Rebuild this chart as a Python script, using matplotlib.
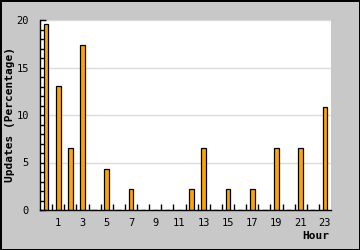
import matplotlib
matplotlib.use("Agg")
import matplotlib.pyplot as plt
import numpy as np

# hour of day and share of updates (percent)
hours = list(range(24))
updates = [19.57, 13.04, 6.52, 17.39, 0, 4.35, 0, 2.17, 0, 0, 0, 0,
           2.17, 6.52, 0, 2.17, 0, 2.17, 0, 6.52, 0, 6.52, 0, 10.87]
label_hours = [1, 3, 5, 7, 9, 11, 13, 15, 17, 19, 21, 23]
y_major = [0, 5, 10, 15, 20]

fig = plt.figure(figsize=(3.6, 2.5), dpi=100, facecolor="#c8c8c8",
                 edgecolor="black", linewidth=1)
ax = fig.add_axes([40 / 360, 1 - 210 / 250, 291 / 360, 190 / 250])
ax.set_facecolor("white")

ax.bar(hours, updates, width=0.4, color="#ffa500", edgecolor="black",
       linewidth=0.9, zorder=3)

ax.set_xlim(-0.5, 23.5)
ax.set_ylim(0, 20)

for s in ["top", "right"]:
    ax.spines[s].set_visible(False)
for s in ["left", "bottom"]:
    ax.spines[s].set_linewidth(1.0)
    ax.spines[s].set_zorder(4)

# grid lines on the labelled y values
for v in y_major[1:]:
    ax.axhline(v, color="#dcdcdc", linewidth=1.0, zorder=1)

# x: short inward ticks at hour boundaries, labels under odd hours
ax.set_xticks([h + 0.5 for h in hours[:-1]], minor=True)
ax.set_xticks(label_hours)
ax.set_xticklabels([str(h) for h in label_hours], family="DejaVu Sans Mono",
                   fontsize=7.5)
ax.tick_params(axis="x", which="major", length=0, pad=6)
ax.tick_params(axis="x", which="minor", direction="in", length=4, width=1)

ax.set_yticks(y_major)
ax.set_yticklabels([str(v) for v in y_major], family="DejaVu Sans Mono",
                   fontsize=7.5)
ax.set_yticks(range(0, 21), minor=True)
ax.tick_params(axis="y", which="both", direction="in", length=4, width=1,
               pad=8)

ax.set_ylabel("Updates (Percentage)", family="DejaVu Sans Mono",
              fontweight="bold", fontsize=8)
ax.yaxis.set_label_coords(-25 / 291, 0.5)
fig.text(329 / 360, 1 - 236 / 250, "Hour", family="DejaVu Sans Mono",
         fontweight="bold", fontsize=8, ha="right", va="center")

fig.savefig("out.png", dpi=100, facecolor=fig.get_facecolor(),
            edgecolor="black")
